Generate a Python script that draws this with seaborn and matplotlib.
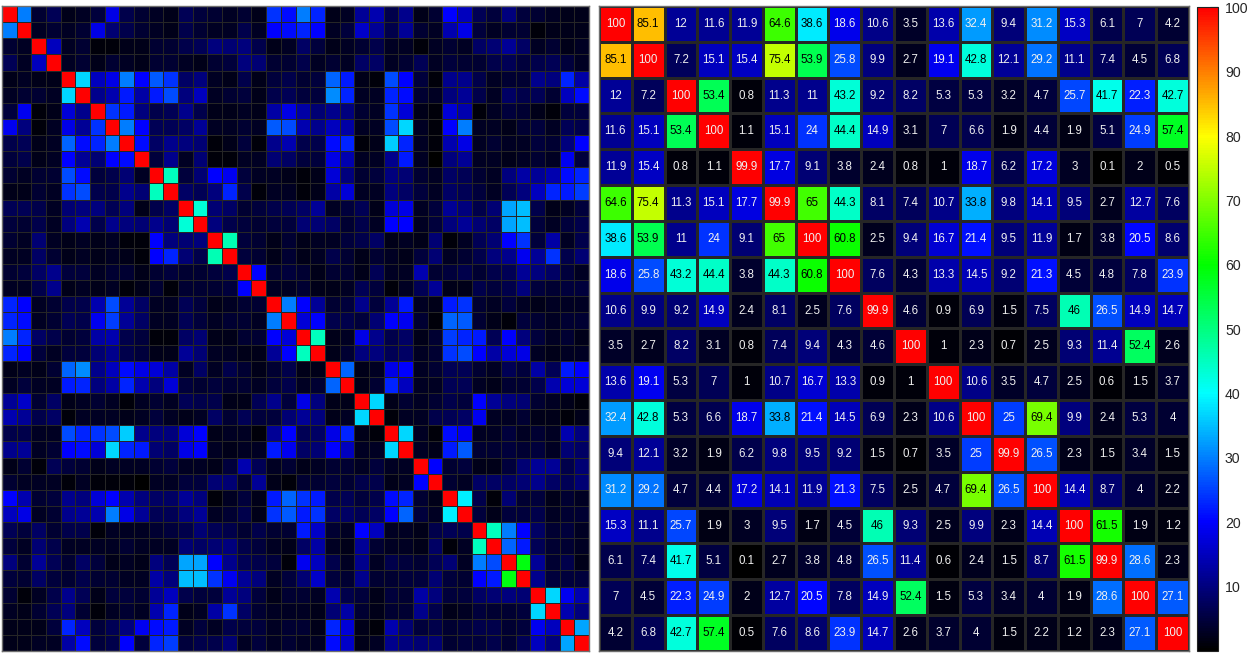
import numpy as np
import pandas as pd
import matplotlib
matplotlib.use("Agg")
import matplotlib.pyplot as plt
import seaborn as sns
from matplotlib.colors import LinearSegmentedColormap

sns.set_theme(style="white")
plt.rcParams['font.family'] = ['Liberation Sans', 'DejaVu Sans']

# left: fine-grained similarity matrix (40 x 40), values in %
left_rows = [
    [100,30,4,7,2,3,5,18,6,4,3,2,7,5,4,3,4,2,24,21, 30,23,2,3,12,14,6,11,2,4,20,15,7,5,10,5,4,3,2,2],
    [30,100,3,4,3,4,18,9,6,4,3,2,6,4,3,3,6,3,20,21, 23,20,3,5,16,12,6,12,4,3,14,18,5,3,4,4,1,2,2,2],
    [4,3,100,15,3,4,1,1,2,2,4,4,6,7,10,9,10,6,2,3, 8,5,2,3,4,6,3,3,1,3,4,3,8,9,12,8,3,4,2,3],
    [7,3,15,100,3,4,2,4,3,2,4,4,3,2,4,5,10,9,4,4, 6,3,4,3,8,8,3,4,7,3,5,4,4,6,7,5,6,7,5,3],
    [2,3,2,2,100,37,15,18,30,20,27,24,8,10,3,2,6,2,5,6, 4,5,28,22,2,1,26,20,5,1,11,11,6,3,4,4,11,10,23,13],
    [3,4,4,3,37,100,11,14,22,13,22,26,10,15,3,4,5,2,6,7, 5,5,31,23,3,3,23,21,4,3,10,12,6,3,8,6,7,4,15,21],
    [5,19,1,2,17,11,100,24,22,10,6,7,11,6,2,2,3,2,13,18, 13,9,11,10,4,3,24,17,2,1,17,14,1,3,5,4,2,1,5,5],
    [19,10,1,3,18,12,24,100,30,20,7,7,8,12,3,3,4,3,27,26, 14,11,15,13,3,3,26,37,3,1,20,30,3,3,2,4,5,3,7,6],
    [6,7,2,3,28,21,23,30,100,21,8,11,10,9,1,2,5,1,11,14, 6,6,21,23,1,2,36,23,3,1,14,18,3,4,3,3,5,4,10,20],
    [5,6,2,3,20,12,9,20,21,100,5,11,3,9,1,1,3,3,9,8, 5,5,18,14,3,3,11,22,3,0,10,12,3,3,2,3,4,3,19,5],
    [4,3,4,4,26,21,5,6,9,3,100,45,5,9,20,19,5,3,3,2, 1,2,17,10,4,5,10,9,4,3,8,7,4,3,10,13,12,14,21,23],
    [2,2,4,3,24,26,6,6,11,9,45,100,8,7,10,23,6,1,3,3, 1,2,13,17,3,3,10,8,5,3,8,7,5,3,7,10,15,23,22,25],
    [7,7,6,3,9,10,10,7,10,2,6,8,100,43,9,8,4,5,6,7, 8,12,3,5,7,2,17,18,3,5,12,10,6,9,33,35,6,2,3,5],
    [5,4,6,3,10,14,6,11,10,9,11,9,43,100,10,6,5,4,5,5, 9,9,8,4,6,3,20,20,3,5,10,12,9,8,33,35,5,3,5,6],
    [4,3,9,3,2,3,2,3,1,1,20,10,9,10,100,46,5,4,2,4, 2,3,3,5,6,8,2,3,2,9,1,3,7,9,20,24,5,13,3,6],
    [3,3,8,4,2,3,2,3,2,1,20,23,9,6,46,100,5,4,2,4, 2,3,6,4,2,4,3,2,5,9,3,4,6,10,11,19,12,24,6,9],
    [4,5,8,11,5,5,3,4,4,2,4,5,4,4,5,6,100,20,4,5, 4,2,4,4,2,7,3,3,14,4,5,6,4,6,7,12,10,8,5,3],
    [3,3,6,11,2,3,2,3,1,2,4,1,4,4,4,5,20,100,3,3, 4,2,2,3,7,5,1,3,7,12,2,2,6,5,6,10,5,4,5,5],
    [23,20,3,4,6,6,14,26,12,8,3,3,7,5,2,3,4,4,100,30, 20,12,4,5,11,5,12,22,3,2,22,24,4,3,5,3,2,3,3,3],
    [23,21,3,4,7,6,19,25,12,8,3,3,7,5,3,4,4,3,30,100, 17,20,6,6,5,9,20,19,4,1,28,27,4,2,1,5,4,3,4,4],
    [30,23,8,6,4,5,13,14,6,5,1,1,8,9,2,2,4,4,20,17, 100,45,2,3,18,11,6,8,2,4,25,23,22,7,20,10,5,3,4,2],
    [23,20,5,3,5,5,9,11,6,5,2,2,12,9,3,3,2,2,12,20, 45,100,2,4,10,10,7,8,3,4,24,26,20,13,17,18,3,2,3,3],
    [2,3,2,4,28,31,11,15,21,18,17,13,3,8,3,6,4,2,4,6, 2,2,100,28,2,3,18,20,3,4,7,7,4,3,7,5,13,7,22,20],
    [3,5,3,3,22,23,10,13,23,14,10,17,5,4,5,4,4,3,5,6, 3,4,28,100,2,4,23,15,3,3,7,7,3,2,4,4,6,14,17,17],
    [12,16,4,8,2,3,4,3,1,3,4,3,7,6,6,2,2,7,11,5, 18,10,2,2,100,37,2,4,3,4,6,5,20,12,10,9,4,3,2,1],
    [14,12,6,8,1,3,3,3,2,3,5,3,2,3,8,4,7,5,5,9, 12,10,2,3,37,100,1,3,3,6,7,8,19,3,3,4,2,2,1,2],
    [6,6,3,3,26,23,24,26,36,11,10,10,17,20,2,3,3,1,12,20, 7,8,18,23,2,1,100,37,3,1,21,19,3,3,5,3,4,3,14,10],
    [11,12,3,4,20,21,17,37,23,22,9,8,18,20,3,2,3,3,22,19, 8,9,20,15,3,3,37,100,3,2,22,27,4,4,5,4,5,3,9,8],
    [2,4,1,7,5,4,2,3,3,3,4,5,3,3,2,5,14,7,3,4, 2,3,4,4,3,5,3,3,100,20,4,5,2,2,5,9,12,12,6,9],
    [4,3,3,3,1,3,1,1,1,0,3,3,5,5,9,9,4,12,2,1, 4,4,5,4,6,6,2,3,20,100,4,3,8,8,8,9,11,8,7,9],
    [20,14,4,5,11,10,17,20,14,10,8,8,12,10,1,3,5,2,22,28, 24,22,6,7,5,6,21,23,4,2,100,39,6,1,9,4,5,2,4,3],
    [15,18,3,4,11,12,14,30,18,12,7,7,10,12,3,4,6,2,24,27, 22,24,8,8,7,8,20,28,5,3,39,100,5,2,5,5,6,3,4,4],
    [7,5,8,4,6,6,1,3,3,3,4,5,6,9,7,6,4,6,4,4, 22,16,4,3,20,15,3,3,2,6,7,6,100,45,30,20,8,4,5,3],
    [5,3,9,6,3,3,3,3,4,3,3,3,9,8,9,10,6,5,3,2, 8,13,3,2,12,4,3,3,2,8,1,3,45,100,28,22,7,4,4,3],
    [10,4,12,7,4,8,5,2,3,2,10,7,33,33,20,11,7,6,5,1, 19,15,6,3,11,3,6,5,4,7,9,3,30,26,100,59,12,4,6,2],
    [5,4,8,5,4,6,4,4,3,3,13,10,35,35,24,19,12,10,3,5, 9,16,5,4,11,4,4,5,5,9,5,4,20,22,59,100,11,5,5,5],
    [4,1,3,6,11,7,2,5,5,4,12,15,6,5,5,12,10,5,2,4, 4,3,14,6,5,2,5,4,13,10,5,5,8,9,10,9,100,37,19,14],
    [3,2,4,7,10,4,1,3,4,3,14,23,2,3,13,24,8,4,3,3, 3,2,9,13,4,2,4,4,11,6,2,3,5,4,4,5,37,100,14,10],
    [2,2,2,5,23,15,5,7,10,19,21,22,3,5,3,6,5,5,3,4, 4,2,23,17,2,1,14,9,5,6,4,5,6,6,4,5,19,15,100,33],
    [2,2,3,3,13,21,5,6,20,5,23,25,5,6,6,9,3,5,3,4, 3,3,21,16,2,3,11,10,9,9,4,5,5,6,4,7,15,10,33,100],
]

# right: 18 x 18 annotated matrix
right_rows = [
    [100,85.1,12,11.6,11.9,64.6,38.6,18.6,10.6,3.5,13.6,32.4,9.4,31.2,15.3,6.1,7,4.2],
    [85.1,100,7.2,15.1,15.4,75.4,53.9,25.8,9.9,2.7,19.1,42.8,12.1,29.2,11.1,7.4,4.5,6.8],
    [12,7.2,100,53.4,0.8,11.3,11,43.2,9.2,8.2,5.3,5.3,3.2,4.7,25.7,41.7,22.3,42.7],
    [11.6,15.1,53.4,100,1.1,15.1,24,44.4,14.9,3.1,7,6.6,1.9,4.4,1.9,5.1,24.9,57.4],
    [11.9,15.4,0.8,1.1,99.9,17.7,9.1,3.8,2.4,0.8,1,18.7,6.2,17.2,3,0.1,2,0.5],
    [64.6,75.4,11.3,15.1,17.7,99.9,65,44.3,8.1,7.4,10.7,33.8,9.8,14.1,9.5,2.7,12.7,7.6],
    [38.6,53.9,11,24,9.1,65,100,60.8,2.5,9.4,16.7,21.4,9.5,11.9,1.7,3.8,20.5,8.6],
    [18.6,25.8,43.2,44.4,3.8,44.3,60.8,100,7.6,4.3,13.3,14.5,9.2,21.3,4.5,4.8,7.8,23.9],
    [10.6,9.9,9.2,14.9,2.4,8.1,2.5,7.6,99.9,4.6,0.9,6.9,1.5,7.5,46,26.5,14.9,14.7],
    [3.5,2.7,8.2,3.1,0.8,7.4,9.4,4.3,4.6,100,1,2.3,0.7,2.5,9.3,11.4,52.4,2.6],
    [13.6,19.1,5.3,7,1,10.7,16.7,13.3,0.9,1,100,10.6,3.5,4.7,2.5,0.6,1.5,3.7],
    [32.4,42.8,5.3,6.6,18.7,33.8,21.4,14.5,6.9,2.3,10.6,100,25,69.4,9.9,2.4,5.3,4],
    [9.4,12.1,3.2,1.9,6.2,9.8,9.5,9.2,1.5,0.7,3.5,25,99.9,26.5,2.3,1.5,3.4,1.5],
    [31.2,29.2,4.7,4.4,17.2,14.1,11.9,21.3,7.5,2.5,4.7,69.4,26.5,100,14.4,8.7,4,2.2],
    [15.3,11.1,25.7,1.9,3,9.5,1.7,4.5,46,9.3,2.5,9.9,2.3,14.4,100,61.5,1.9,1.2],
    [6.1,7.4,41.7,5.1,0.1,2.7,3.8,4.8,26.5,11.4,0.6,2.4,1.5,8.7,61.5,99.9,28.6,2.3],
    [7,4.5,22.3,24.9,2,12.7,20.5,7.8,14.9,52.4,1.5,5.3,3.4,4,1.9,28.6,100,27.1],
    [4.2,6.8,42.7,57.4,0.5,7.6,8.6,23.9,14.7,2.6,3.7,4,1.5,2.2,1.2,2.3,27.1,100],
]

cbar_ticks = [10, 20, 30, 40, 50, 60, 70, 80, 90, 100]

df_left = pd.DataFrame(left_rows)
df_right = pd.DataFrame(right_rows)

# black -> blue -> cyan -> green -> yellow -> red
cmap = LinearSegmentedColormap.from_list(
    "jet_black",
    [(0.0, "#000000"), (0.2, "#0000ff"), (0.4, "#00ffff"),
     (0.6, "#00ff00"), (0.8, "#ffff00"), (1.0, "#ff0000")])

VMAX = 100.05  # a hair above 100 so the top tick survives

fig = plt.figure(figsize=(12.5, 6.54), dpi=100)
ax_l = fig.add_axes([2/1250, 3/654, 587/1250, 645/654])
ax_r = fig.add_axes([599/1250, 3/654, 590/1250, 645/654])
cax = fig.add_axes([1197/1250, 3/654, 21/1250, 644/654])

sns.heatmap(df_left, ax=ax_l, cmap=cmap, vmin=0, vmax=VMAX, cbar=False,
            linewidths=0.7, linecolor="#262626",
            xticklabels=False, yticklabels=False)

sns.heatmap(df_right, ax=ax_r, cmap=cmap, vmin=0, vmax=VMAX,
            annot=True, fmt="g", annot_kws={"fontsize": 8.3},
            linewidths=0.8, linecolor="#262626",
            xticklabels=False, yticklabels=False,
            cbar_ax=cax, cbar_kws={"ticks": cbar_ticks})

# text colour: dark on the bright middle of the colour range
vals = df_right.values.flatten()
for t, v in zip(ax_r.texts, vals):
    t.set_color("black" if 33 < v < 95 else "#f0f0f0")

for ax in (ax_l, ax_r):
    for s in ax.spines.values():
        s.set_visible(True)
        s.set_color("#6e6e6e")
        s.set_linewidth(1)

cb = ax_r.collections[0].colorbar
cax.tick_params(axis="y", direction="in", length=6, width=0.8, color="#222222",
                labelsize=10.2, labelcolor="#262626", pad=5, right=True)
cax.yaxis.set_ticks_position("right")
cb.outline.set_edgecolor("#222222")
cb.outline.set_linewidth(0.8)

fig.savefig("out.png", dpi=100)
